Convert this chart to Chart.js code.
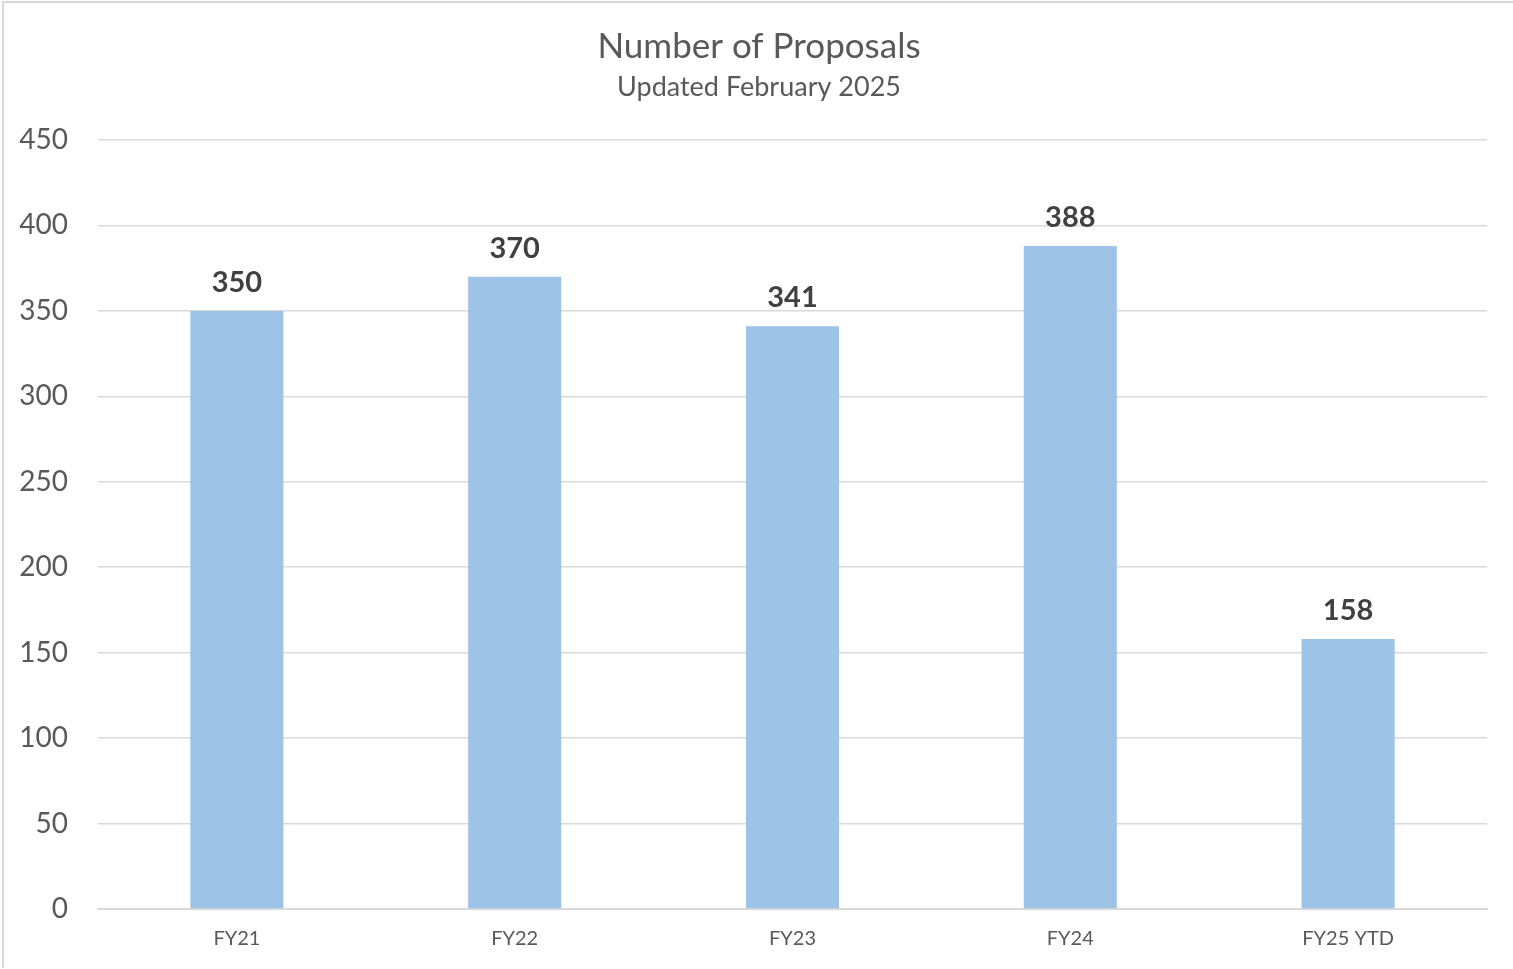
<!DOCTYPE html>
<html>
<head>
<meta charset="utf-8">
<script src="https://cdn.jsdelivr.net/npm/chart.js@4.4.1/dist/chart.umd.min.js"></script>
<style>
  html, body { margin: 0; padding: 0; background: #ffffff; }
  #wrap { position: relative; width: 1513px; height: 969px; }
  #frame { position: absolute; left: 2px; top: 1px; width: 1511px; height: 967px; border-top: 2px solid #d9d9d9; border-left: 2px solid #d9d9d9; box-sizing: border-box; pointer-events: none; }
  canvas { display: block; }
</style>
</head>
<body>
<div id="wrap">
  <canvas id="chart" width="1513" height="969"></canvas>
  <div id="frame"></div>
</div>
<script>
const categories = ['FY21', 'FY22', 'FY23', 'FY24', 'FY25 YTD'];
const proposals = [350, 370, 341, 388, 158];
const yTicks = [0, 50, 100, 150, 200, 250, 300, 350, 400, 450];
const chartTitle = 'Number of Proposals';
const chartSubtitle = 'Updated February 2025';

const FONT = "Lato, 'Open Sans', sans-serif";

// Title block, centred on the whole frame
const headerText = {
  id: 'headerText',
  afterDraw(chart) {
    const ctx = chart.ctx;
    const cx = 759;
    ctx.save();
    ctx.fillStyle = '#595959';
    ctx.textAlign = 'center';
    ctx.textBaseline = 'alphabetic';
    ctx.font = "35px " + FONT;
    ctx.fillText(chartTitle, cx, 58);
    ctx.font = "27px " + FONT;
    ctx.fillText(chartSubtitle, cx, 96);
    ctx.restore();
  }
};

// Draws the value above each bar
const valueLabels = {
  id: 'valueLabels',
  afterDatasetsDraw(chart) {
    const ctx = chart.ctx;
    const meta = chart.getDatasetMeta(0);
    ctx.save();
    ctx.font = "bold 29px " + FONT;
    ctx.fillStyle = '#404040';
    ctx.textAlign = 'center';
    ctx.textBaseline = 'alphabetic';
    meta.data.forEach((bar, i) => {
      ctx.fillText(String(proposals[i]), bar.x, bar.y - 19);
    });
    ctx.restore();
  }
};

new Chart(document.getElementById('chart'), {
  type: 'bar',
  data: {
    labels: categories,
    datasets: [{
      data: proposals,
      backgroundColor: '#9dc3e6',
      borderWidth: 0,
      barPercentage: 0.335,
      categoryPercentage: 1.0
    }]
  },
  plugins: [valueLabels, headerText],
  options: {
    responsive: false,
    animation: false,
    layout: { padding: { left: 0, right: 26, top: 140, bottom: 0 } },
    plugins: {
      legend: { display: false },
      tooltip: { enabled: false },
      title: { display: false },
      subtitle: { display: false }
    },
    scales: {
      x: {
        grid: { display: false, drawTicks: false },
        border: { display: true, color: '#d9d9d9', width: 2 },
        ticks: { color: '#595959', font: { family: FONT, size: 20 }, padding: 18 }
      },
      y: {
        min: 0,
        max: 450,
        afterBuildTicks(scale) { scale.ticks = yTicks.map(v => ({ value: v })); },
        afterFit(scale) { scale.width = 98; },
        grid: { color: '#d9d9d9', lineWidth: 1.5, drawTicks: false },
        border: { display: false },
        ticks: { color: '#595959', font: { family: FONT, size: 28 }, padding: 30 }
      }
    }
  }
});
</script>
</body>
</html>
